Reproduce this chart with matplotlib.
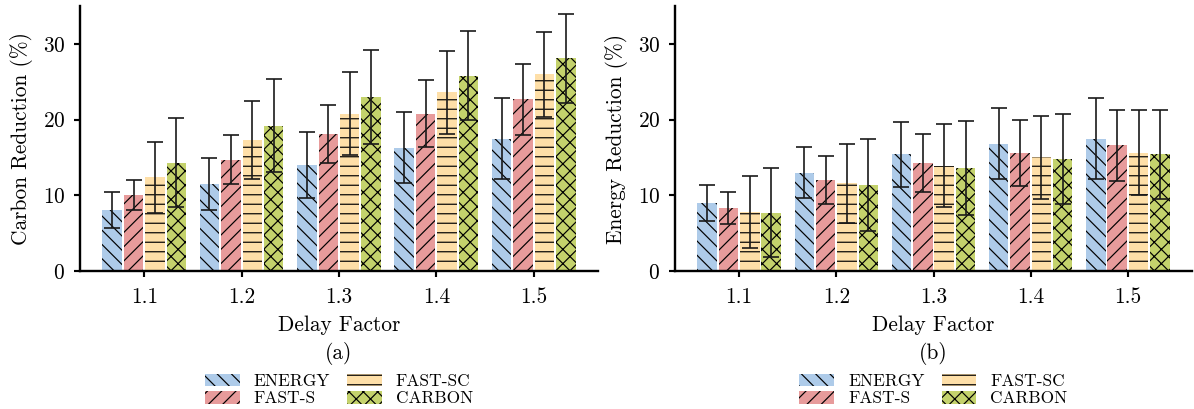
import matplotlib
matplotlib.use("Agg")
import matplotlib.pyplot as plt
import numpy as np

plt.rcParams["font.family"] = "cmr10"
plt.rcParams["axes.formatter.use_mathtext"] = True
plt.rcParams["hatch.linewidth"] = 0.5

delay_factors = ["1.1", "1.2", "1.3", "1.4", "1.5"]
policies = ["ENERGY", "FAST-S", "FAST-SC", "CARBON"]

# carbon reduction (%) per policy, one value per delay factor
carbon_mean = {
    "ENERGY":  [8.1, 11.5, 14.0, 16.3, 17.5],
    "FAST-S":  [10.0, 14.7, 18.1, 20.8, 22.7],
    "FAST-SC": [12.4, 17.3, 20.8, 23.6, 26.0],
    "CARBON":  [14.3, 19.2, 23.0, 25.8, 28.1],
}
carbon_err = {
    "ENERGY":  [2.4, 3.4, 4.3, 4.7, 5.4],
    "FAST-S":  [2.0, 3.2, 3.8, 4.4, 4.7],
    "FAST-SC": [4.7, 5.2, 5.5, 5.5, 5.6],
    "CARBON":  [5.9, 6.1, 6.2, 5.9, 5.9],
}

# energy reduction (%)
energy_mean = {
    "ENERGY":  [9.0, 13.0, 15.4, 16.8, 17.5],
    "FAST-S":  [8.3, 12.0, 14.3, 15.6, 16.6],
    "FAST-SC": [7.8, 11.6, 13.9, 15.0, 15.6],
    "CARBON":  [7.7, 11.4, 13.6, 14.8, 15.4],
}
energy_err = {
    "ENERGY":  [2.35, 3.4, 4.3, 4.7, 5.4],
    "FAST-S":  [2.1, 3.2, 3.8, 4.4, 4.7],
    "FAST-SC": [4.7, 5.2, 5.5, 5.5, 5.6],
    "CARBON":  [5.9, 6.1, 6.2, 5.9, 5.9],
}

colors = {"ENERGY": "#aecbe9", "FAST-S": "#e79b9b", "FAST-SC": "#fedfa8", "CARBON": "#c4d26c"}
hatches = {"ENERGY": "\\\\\\\\", "FAST-S": "////", "FAST-SC": "---", "CARBON": "xxxx"}

FS = 9
DPI = 171


def draw_panel(ax, means, errs, ylabel, tag):
    x = np.arange(len(delay_factors))
    width = 0.2
    offsets = [-0.33, -0.11, 0.11, 0.33]
    for off, p in zip(offsets, policies):
        ax.bar(x + off, means[p], width, yerr=errs[p], color=colors[p],
               hatch=hatches[p], edgecolor="black", linewidth=0, label=p,
               capsize=3.4,
               error_kw=dict(ecolor="#1a1a1a", elinewidth=0.7, capthick=0.7))

    ax.set_xlim(-0.66, 4.66)
    ax.set_ylim(0, 35)
    ax.set_xticks(x)
    ax.set_xticklabels(delay_factors)
    ax.set_yticks([0, 10, 20, 30])
    ax.tick_params(labelsize=FS, width=0.9, length=2.7)
    ax.tick_params(axis="x", pad=4.3)
    ax.set_xlabel("Delay Factor", fontsize=FS, labelpad=3.3)
    ax.set_ylabel(ylabel, fontsize=FS)
    ax.spines["top"].set_visible(False)
    ax.spines["right"].set_visible(False)
    for s in ("left", "bottom"):
        ax.spines[s].set_linewidth(1.0)

    ax.text(0.5, -0.31, tag, transform=ax.transAxes, ha="center", va="center", fontsize=FS)
    ax.legend(loc="upper center", bbox_to_anchor=(0.5, -0.355), ncol=2, frameon=False,
              fontsize=7.3, handlelength=2.0, handleheight=0.75, columnspacing=1.0,
              labelspacing=0.1, handletextpad=0.8, borderpad=0)


fig = plt.figure(figsize=(1194 / DPI, 409 / DPI), dpi=DPI)
ax1 = fig.add_axes([80 / 1194, 1 - 271 / 409, 518 / 1194, 265 / 409])
ax2 = fig.add_axes([675 / 1194, 1 - 271 / 409, 517 / 1194, 265 / 409])

draw_panel(ax1, carbon_mean, carbon_err, "Carbon Reduction (%)", "(a)")
draw_panel(ax2, energy_mean, energy_err, "Energy Reduction (%)", "(b)")

fig.savefig("out.png", dpi=DPI)
